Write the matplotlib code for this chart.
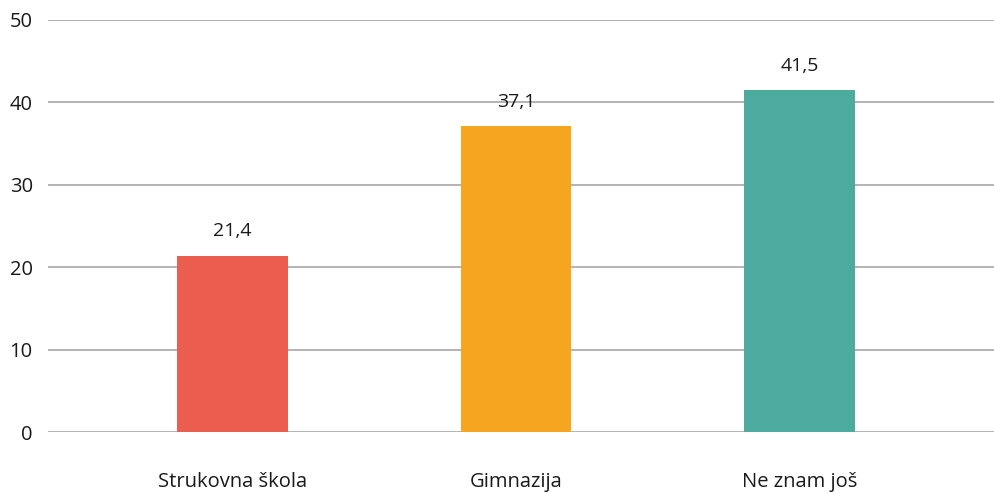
import matplotlib
matplotlib.use("Agg")
import matplotlib.pyplot as plt

# chart data
categories = ["Strukovna škola", "Gimnazija", "Ne znam još"]
values = [21.4, 37.1, 41.5]
value_labels = ["21,4", "37,1", "41,5"]
colors = ["#EB5E4F", "#F6A520", "#4CAB9E"]
yticks = [0, 10, 20, 30, 40, 50]

plt.rcParams["font.family"] = ["Open Sans", "DejaVu Sans"]

fig = plt.figure(figsize=(9.94, 4.94), dpi=100)
ax = fig.add_axes([48 / 994, 62 / 494, 946 / 994, 412 / 494])

x = list(range(len(categories)))
ax.bar(x, values, width=0.39, color=colors, zorder=3)

for xi, v, lab in zip(x, values, value_labels):
    ax.annotate(lab, (xi, v), xytext=(0, 11), textcoords="offset points",
                ha="center", va="bottom", fontsize=14, color="#1a1a1a")

ax.set_xlim(-0.651, 2.686)
ax.set_ylim(0, 50)
ax.set_yticks(yticks)
ax.set_xticks(x)
ax.set_xticklabels(categories)
ax.grid(axis="y", color="#b3b3b3", linewidth=1.4, zorder=0)
ax.tick_params(axis="y", length=0, pad=11, labelsize=14.5, labelcolor="#1a1a1a")
ax.tick_params(axis="x", length=0, pad=29, labelsize=14.5, labelcolor="#1a1a1a")
for s in ax.spines.values():
    s.set_visible(False)

fig.savefig("out.png", dpi=100)
